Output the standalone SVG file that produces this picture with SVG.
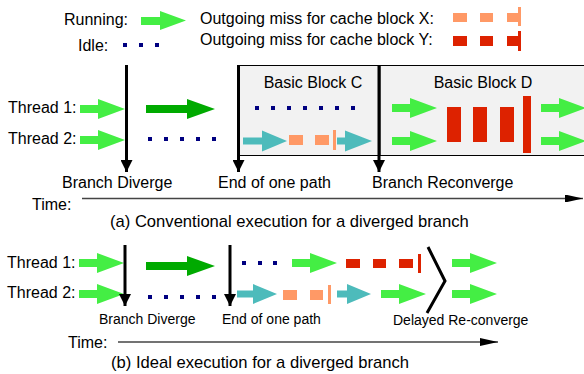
<svg xmlns="http://www.w3.org/2000/svg" width="584" height="374" viewBox="0 0 584 374">
<style>
text{font-family:"Liberation Sans",Arial,sans-serif;fill:#000}
.t16{font-size:16px}
.cap{font-size:16.6px}
.t14{font-size:14px}
.lg{fill:#44EE44}
.dg{fill:#00AA00}
.tl{fill:#4DBBBB}
.or{fill:#FF9966}
.rd{fill:#DD2200}
.dot{fill:#000080}
.vl{stroke:#000;stroke-width:3;fill:none}
.tm{stroke:#444;stroke-width:1.5;fill:none}
.box{fill:#F2F2F2;stroke:#000;stroke-width:1}
</style>
<defs>
<path id="ga" d="M0,-4H18V-10L45,0L18,10V4H0Z"/>
<path id="da" d="M0,-4H41V-10L69,0L41,10V4H0Z"/>
<path id="ta1" d="M0,-3.5H19V-10.5L44,0L19,10.5V3.5H0Z"/>
<path id="ta2" d="M0,-3.5H8V-10.5L35,0L8,10.5V3.5H0Z"/>
<path id="ta3" d="M0,-3.5H16V-10L40,0L16,10V3.5H0Z"/>
<path id="ta4" d="M0,-3.5H10V-10L34,0L10,10V3.5H0Z"/>
<rect id="dt" x="-2" y="-2" width="4" height="4"/>
<marker id="ah" viewBox="0 0 10 10" refX="10" refY="5" markerWidth="4" markerHeight="4" markerUnits="strokeWidth" orient="auto"><path d="M0,0L10,5L0,10Z" fill="#000"/></marker>
<marker id="th" viewBox="0 0 18 8" refX="18" refY="4" markerWidth="12" markerHeight="5.33" markerUnits="strokeWidth" orient="auto"><path d="M0,0L18,4L0,8Z" fill="#000"/></marker>
</defs>

<g id="legend">
<text class="t16" x="64" y="25">Running:</text>
<path class="lg" d="M141,17H160V11L186,20.5L160,30V25H141Z"/>
<text class="t16" x="78" y="51">Idle:</text>
<use href="#dt" class="dot" x="125" y="45"/>
<use href="#dt" class="dot" x="141" y="45"/>
<use href="#dt" class="dot" x="157" y="45"/>
<text class="t16" x="200" y="24">Outgoing miss for cache block X:</text>
<rect class="or" x="453" y="13" width="14" height="9"/>
<rect class="or" x="480" y="13" width="13" height="9"/>
<rect class="or" x="507" y="13" width="11" height="9"/>
<rect class="or" x="518" y="7" width="3" height="19"/>
<text class="t16" x="200" y="45">Outgoing miss for cache block Y:</text>
<rect class="rd" x="453" y="36" width="14" height="10"/>
<rect class="rd" x="480" y="36" width="13" height="10"/>
<rect class="rd" x="507" y="36" width="11" height="10"/>
<rect class="rd" x="518" y="31" width="3" height="20"/>
</g>

<g id="partA">
<g id="blockC">
<rect class="box" x="238.5" y="65.5" width="141.5" height="90"/>
<text class="t16" x="313" y="88" text-anchor="middle">Basic Block C</text>
</g>
<g id="blockD">
<rect class="box" x="380" y="65.5" width="210" height="90"/>
<text class="t16" x="483" y="88" text-anchor="middle">Basic Block D</text>
</g>
<text class="t16" x="8" y="113">Thread 1:</text>
<text class="t16" x="8" y="144">Thread 2:</text>
<use href="#ga" class="lg" x="80" y="109"/>
<use href="#ga" class="lg" x="80" y="140"/>
<use href="#da" class="dg" x="146" y="109"/>
<g class="dot">
<use href="#dt" x="150" y="139"/><use href="#dt" x="166" y="139"/><use href="#dt" x="182" y="139"/><use href="#dt" x="198" y="139"/><use href="#dt" x="214" y="139"/>
<use href="#dt" x="257" y="108"/><use href="#dt" x="273" y="108"/><use href="#dt" x="289" y="108"/><use href="#dt" x="305" y="108"/><use href="#dt" x="321" y="108"/><use href="#dt" x="337" y="108"/><use href="#dt" x="353" y="108"/>
</g>
<use href="#ta1" class="tl" x="243" y="141"/>
<rect class="or" x="289" y="135" width="14" height="10"/>
<rect class="or" x="315" y="135" width="14" height="10"/>
<rect class="or" x="333" y="130" width="3" height="20"/>
<use href="#ta2" class="tl" x="337" y="141"/>
<use href="#ga" class="lg" x="392" y="108"/>
<use href="#ga" class="lg" x="392" y="141"/>
<rect class="rd" x="447" y="107" width="14" height="35"/>
<rect class="rd" x="473" y="107" width="14" height="35"/>
<rect class="rd" x="500" y="107" width="14" height="35"/>
<rect class="rd" x="523" y="96" width="8" height="57"/>
<use href="#ga" class="lg" x="541" y="108"/>
<use href="#ga" class="lg" x="541" y="141"/>
<text class="t16" x="62" y="188">Branch Diverge</text>
<text class="t16" x="218" y="188">End of one path</text>
<text class="t16" x="372" y="188">Branch Reconverge</text>
<text class="t16" x="32" y="210">Time:</text>
<text class="cap" x="110" y="227">(a) Conventional execution for a diverged branch</text>
</g>

<g id="partB">
<text class="t16" x="7" y="268">Thread 1:</text>
<text class="t16" x="7" y="298">Thread 2:</text>
<use href="#ga" class="lg" x="79" y="263"/>
<use href="#ga" class="lg" x="79" y="294"/>
<use href="#da" class="dg" x="146" y="266"/>
<g class="dot">
<use href="#dt" x="150" y="297"/><use href="#dt" x="166" y="297"/><use href="#dt" x="182" y="297"/><use href="#dt" x="198" y="297"/><use href="#dt" x="214" y="297"/>
<use href="#dt" x="244" y="263"/><use href="#dt" x="260" y="263"/><use href="#dt" x="275" y="263"/>
</g>
<use href="#ga" class="lg" x="292" y="263"/>
<rect class="rd" x="346" y="259" width="14" height="9"/>
<rect class="rd" x="373" y="259" width="13" height="9"/>
<rect class="rd" x="399" y="259" width="14" height="9"/>
<rect class="rd" x="418" y="254" width="3" height="19"/>
<use href="#ta3" class="tl" x="237" y="294"/>
<rect class="or" x="283" y="290" width="14" height="10"/>
<rect class="or" x="310" y="290" width="13" height="10"/>
<rect class="or" x="328" y="285" width="3" height="19"/>
<use href="#ta4" class="tl" x="337" y="294"/>
<use href="#ga" class="lg" x="381" y="294"/>
<use href="#ga" class="lg" x="452" y="263"/>
<use href="#ga" class="lg" x="452" y="294"/>
<text class="t14" x="99" y="324">Branch Diverge</text>
<text class="t14" x="222" y="324">End of one path</text>
<text class="t14" x="393" y="325">Delayed Re-converge</text>
<text class="t16" x="68" y="348">Time:</text>
<text class="cap" x="111" y="368">(b) Ideal execution for a diverged branch</text>
</g>

<g id="connectors">
<line class="vl" x1="126.5" y1="65" x2="126.5" y2="172" marker-end="url(#ah)"/>
<line class="vl" x1="238.5" y1="65" x2="238.5" y2="172" marker-end="url(#ah)"/>
<line class="vl" x1="379" y1="65" x2="379" y2="172" marker-end="url(#ah)"/>
<line class="tm" x1="82" y1="198.5" x2="583" y2="198.5" marker-end="url(#th)"/>
<line class="vl" x1="125" y1="245" x2="125" y2="306" marker-end="url(#ah)"/>
<line class="vl" x1="230" y1="245" x2="230" y2="306" marker-end="url(#ah)"/>
<polyline points="428,247 445,281 427,313" style="stroke:#000;stroke-width:3;fill:none"/>
<line class="tm" x1="118" y1="342" x2="498" y2="342" marker-end="url(#th)"/>
</g>
</svg>
